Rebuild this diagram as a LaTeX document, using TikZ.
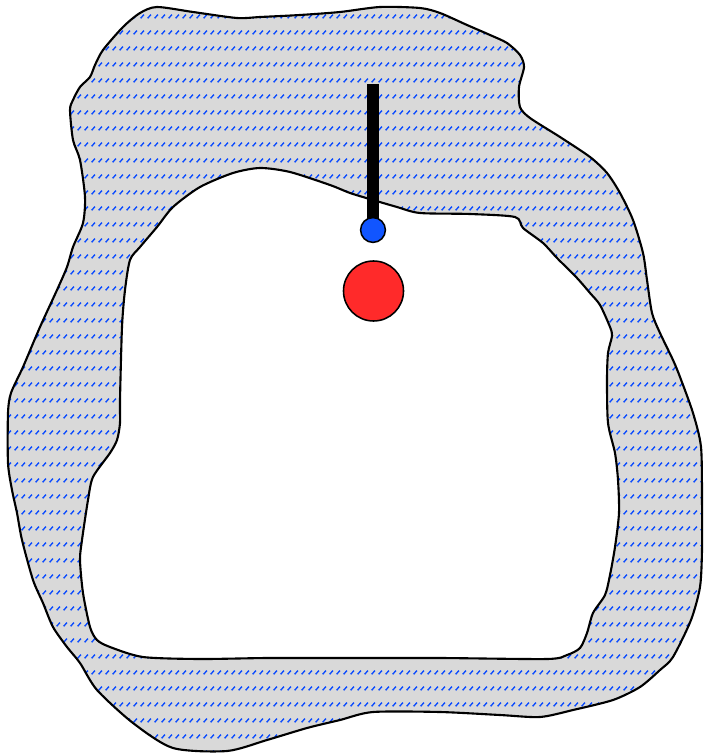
\documentclass[tikz,border=0pt]{standalone}
\usetikzlibrary{patterns}
\definecolor{ringGray}{HTML}{D9D9D9}
\definecolor{dotBlue}{HTML}{0A4BFF}
\definecolor{bobRed}{HTML}{FF2A2A}
\definecolor{pivotBlue}{HTML}{1155FF}
% short slanted dashes in rows
\pgfdeclarepatternformonly{blue rows}{\pgfqpoint{0pt}{0pt}}{\pgfqpoint{4.98pt}{11.03pt}}{\pgfqpoint{4.98pt}{11.03pt}}{%
  \pgfsetlinewidth{1.05pt}%
  \pgfpathmoveto{\pgfqpoint{0.5pt}{0.5pt}}%
  \pgfpathlineto{\pgfqpoint{3.2pt}{3.2pt}}%
  \pgfusepath{stroke}}
\tikzset{
  ring wall/.style={draw=black, line width=1.5pt, even odd rule,
    preaction={fill=ringGray, even odd rule},
    pattern=blue rows, pattern color=dotBlue},
  rod/.style={draw=black, line width=8pt, line cap=butt},
  knob/.style={circle, draw=black, line width=1.1pt, inner sep=0pt}
}
\begin{document}
\begin{tikzpicture}[x=0.025cm,y=-0.025cm]
  \useasboundingbox (0,0) rectangle (704,754);
  % hatched wall with hole
  \draw[ring wall]
    plot[smooth cycle, tension=0.45] coordinates {
      (140,13) (157,7) (193,12) (237,18) (260,17) (300,15) (340,12) (380,7)
      (420,8) (440,13) (467,25) (490,35) (507,43) (520,55) (524,67) (519,87)
      (520,107) (530,118) (560,137) (590,157) (607,173) (620,193) (633,220)
      (643,253) (647,280) (652,313) (660,333) (673,360) (680,377) (693,413)
      (701,447) (702,500) (702,550) (700,587) (691,620) (673,657) (660,670)
      (640,687) (613,700) (573,710) (540,717) (500,715) (440,712) (373,712)
      (340,720) (307,728) (267,740) (227,751) (173,748) (133,723) (97,690)
      (80,663) (67,647) (53,627) (43,603) (33,580) (22,540) (17,513) (12,490)
      (8,463) (8,413) (11,393) (23,367) (40,327) (57,290) (67,267) (73,247)
      (83,223) (85,197) (80,160) (73,140) (70,110) (73,100) (80,87) (90,77)
      (95,65) (103,50) (123,27)}
    plot[smooth cycle, tension=0.45] coordinates {
      (130,260) (140,247) (157,227) (173,207) (200,187) (233,173) (260,168)
      (290,172) (330,185) (350,193) (373,200) (397,207) (420,213) (470,214)
      (515,217) (523,228) (543,243) (557,258) (577,278) (590,293) (600,305)
      (610,327) (612,336) (608,353) (607,380) (608,423) (615,453) (618,480)
      (619,513) (615,547) (610,575) (605,595) (593,613) (587,633) (580,648)
      (567,655) (547,659) (440,658) (340,658) (267,658) (200,659) (143,657)
      (110,647) (97,640) (90,627) (83,593) (80,560) (82,540) (88,500) (93,477)
      (110,453) (117,440) (120,423) (120,400) (122,327) (125,290)};
  % pendulum
  \coordinate (rod top) at (373,84);
  \coordinate (pivot c) at (373,230);
  \draw[rod] (rod top) -- (pivot c);
  \node[knob, fill=pivotBlue, minimum size=0.62cm] (pivot) at (pivot c) {};
  \node[knob, fill=bobRed, minimum size=1.5cm] (bob) at (373.5,291) {};
\end{tikzpicture}
\end{document}
